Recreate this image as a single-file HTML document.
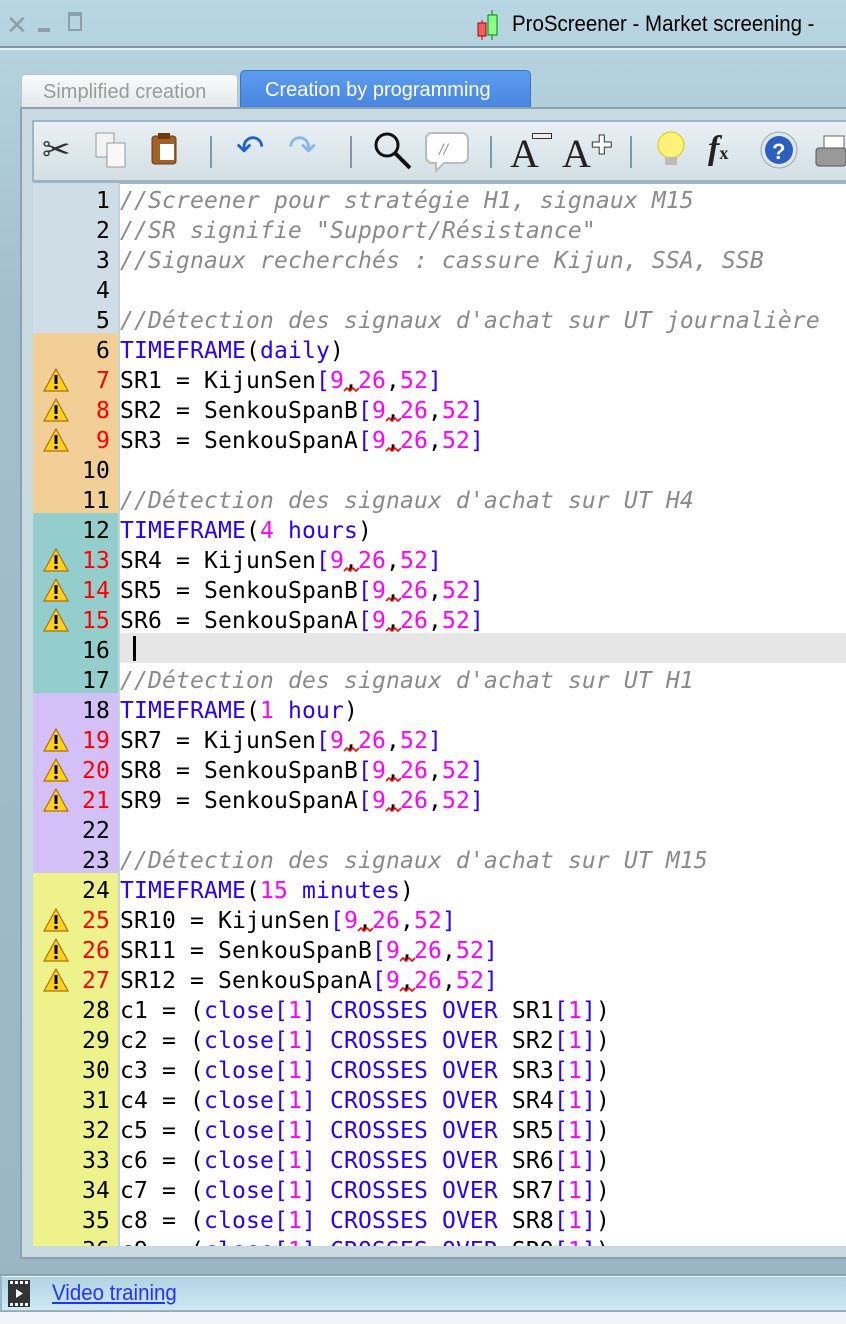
<!DOCTYPE html>
<html><head><meta charset="utf-8"><style>
*{margin:0;padding:0;box-sizing:border-box}
body{width:846px;height:1324px;overflow:hidden;position:relative;background:linear-gradient(#b9d6e3,#a3bfcc 300px,#9ab6c3);font-family:"Liberation Sans",sans-serif}
.abs{position:absolute}
.code{font-family:"DejaVu Sans Mono","Liberation Mono",monospace;font-size:23px;white-space:pre;line-height:30px;letter-spacing:0.15px}
.ln{position:absolute;left:33px;width:85px;height:30px;text-align:right;padding-right:8px}
.tx{position:absolute;left:120px;height:30px}
.c{color:#8a8a8a;font-style:italic}
.k{color:#2a00ff}
.n{color:#ff00ff}
.r{color:#ff0000}
.w{position:absolute;left:43px;width:26px;height:24px}
</style></head><body>
<!-- title -->
<div class="abs" style="left:6px;top:10px;font-size:26px;color:#8aa0aa">✕</div>
<div class="abs" style="left:38px;top:28px;width:12px;height:4px;background:#8aa0aa"></div>
<div class="abs" style="left:68px;top:12px;width:14px;height:19px;border:2px solid #8aa0aa;border-top-width:4px"></div>
<svg class="abs" style="left:474px;top:8px" width="40" height="34"><line x1="8" y1="12" x2="8" y2="32" stroke="#c00"/><rect x="4" y="15" width="8" height="13" fill="#f06060" stroke="#a00"/><line x1="18" y1="2" x2="18" y2="32" stroke="#080"/><rect x="14" y="7" width="9" height="20" fill="#8f8" stroke="#080"/></svg>
<div class="abs" style="left:512px;top:11px;font-size:22px;color:#000;white-space:nowrap;transform:scaleX(0.93);transform-origin:left">ProScreener - Market screening  -</div>
<div class="abs" style="left:0;top:46px;width:846px;height:2px;background:#7f98a4"></div>
<div class="abs" style="left:0;top:48px;width:846px;height:2px;background:#e6f2f7"></div>
<!-- tabs -->
<div class="abs" style="left:21px;top:74px;width:217px;height:34px;background:linear-gradient(#fafafa,#e4e8ea);border:1px solid #b8c4ca;border-bottom:none;border-radius:4px 4px 0 0;color:#9a9a9a;font-size:20px;padding:6px 0 0 21px">Simplified creation</div>
<div class="abs" style="left:240px;top:70px;width:291px;height:38px;background:linear-gradient(#5b9cf0,#4a86e0);border:1px solid #3f72c4;border-bottom:none;border-radius:5px 5px 0 0;color:#fff;font-size:20px;padding:8px 0 0 24px">Creation by programming</div>
<!-- panel -->
<div class="abs" style="left:20px;top:107px;width:830px;height:1152px;background:#c9d9e1;border:2px solid #8aa3ae;border-right:none"></div>
<div class="abs" style="left:32px;top:120px;width:820px;height:62px;background:linear-gradient(#e9f0f3,#d3e0e6);border:2px solid #9fb4bd;border-right:none"></div>
<!-- toolbar icons -->
<div class="abs" style="left:42px;top:130px;font-size:34px;color:#333">✂</div>
<svg class="abs" style="left:94px;top:131px" width="36" height="38"><rect x="2" y="2" width="18" height="24" fill="#f2f2f2" stroke="#999"/><rect x="13" y="12" width="18" height="24" fill="#f8f8f8" stroke="#999"/></svg>
<svg class="abs" style="left:150px;top:132px" width="32" height="34"><rect x="2" y="4" width="24" height="28" rx="3" fill="#a0602a" stroke="#6b3a10"/><rect x="10" y="12" width="14" height="16" fill="#fff"/><rect x="8" y="1" width="12" height="6" fill="#6b3a10"/></svg>
<div class="abs" style="left:210px;top:136px;width:2px;height:32px;background:#7f99a5"></div>
<div class="abs" style="left:236px;top:128px;font-size:34px;color:#1f5fd8">↶</div>
<div class="abs" style="left:288px;top:128px;font-size:34px;color:#8ab6f0">↷</div>
<div class="abs" style="left:350px;top:136px;width:2px;height:32px;background:#7f99a5"></div>
<svg class="abs" style="left:372px;top:130px" width="42" height="42"><circle cx="15" cy="15" r="11" fill="none" stroke="#111" stroke-width="3"/><line x1="23" y1="23" x2="38" y2="38" stroke="#111" stroke-width="4"/></svg>
<svg class="abs" style="left:424px;top:130px" width="46" height="44"><path d="M8 3h30a6 6 0 0 1 6 6v18a6 6 0 0 1-6 6H20l-8 8v-8H8a6 6 0 0 1-6-6V9a6 6 0 0 1 6-6z" fill="#fff" stroke="#bbb" stroke-width="2"/><text x="15" y="25" font-size="16" fill="#999" font-style="italic">//</text></svg>
<div class="abs" style="left:490px;top:136px;width:2px;height:32px;background:#7f99a5"></div>
<div class="abs" style="left:510px;top:130px;font-family:'Liberation Serif',serif;font-size:40px;color:#222">A</div>
<div class="abs" style="left:532px;top:133px;width:20px;height:6px;background:#eee;border:1px solid #333"></div>
<div class="abs" style="left:562px;top:130px;font-family:'Liberation Serif',serif;font-size:40px;color:#222">A<span style="font-size:26px;vertical-align:top;font-family:'Liberation Sans';color:#fff;-webkit-text-stroke:1px #333">✚</span></div>
<div class="abs" style="left:630px;top:136px;width:2px;height:32px;background:#7f99a5"></div>
<svg class="abs" style="left:654px;top:130px" width="34" height="42"><circle cx="17" cy="15" r="13" fill="#fff27a" stroke="#e0c400"/><rect x="11" y="27" width="12" height="8" fill="#bbb"/></svg>
<div class="abs" style="left:708px;top:130px;font-family:'Liberation Serif',serif;font-style:italic;font-size:34px;color:#222;font-weight:bold">f<span style="font-size:18px;font-style:normal">x</span></div>
<svg class="abs" style="left:760px;top:130px" width="40" height="40"><circle cx="19" cy="20" r="18" fill="#dfe6ea" stroke="#9aa"/><circle cx="19" cy="20" r="14" fill="#2d5fbf"/><text x="12" y="29" font-size="22" font-weight="bold" fill="#fff">?</text></svg>
<svg class="abs" style="left:814px;top:132px" width="32" height="38"><rect x="10" y="4" width="20" height="14" fill="#fff" stroke="#666"/><rect x="2" y="16" width="30" height="18" rx="3" fill="#999" stroke="#555"/></svg>
<!-- editor -->
<div class="abs" style="left:33px;top:182px;width:813px;height:1064px;background:#fff;overflow:hidden;border-top:2px solid #9fb4bd">
</div>
<div class="abs" style="left:33px;top:183px;width:85px;height:150px;background:#cfdde6"></div>
<div class="abs" style="left:33px;top:333px;width:85px;height:180px;background:#f2cf97"></div>
<div class="abs" style="left:33px;top:513px;width:85px;height:180px;background:#93cecd"></div>
<div class="abs" style="left:33px;top:693px;width:85px;height:180px;background:#d2c0f7"></div>
<div class="abs" style="left:33px;top:873px;width:85px;height:373px;background:#eef28a"></div>
<div class="abs" style="left:118px;top:183px;width:2px;height:1063px;background:#c5d3da"></div>
<div class="abs" style="left:120px;top:633px;width:726px;height:30px;background:#e6e6e6"></div>
<div class="abs" style="left:133px;top:636px;width:3px;height:25px;background:#000"></div>
<div class="abs code" style="left:0;top:183px;width:846px;height:1063px;overflow:hidden">
<div style="position:absolute;left:0;top:3px;width:846px">
<div class="ln" style="top:0">1</div><div class="tx c" style="top:0">//Screener pour stratégie H1, signaux M15</div>
<div class="ln" style="top:30px">2</div><div class="tx c" style="top:30px">//SR signifie "Support/Résistance"</div>
<div class="ln" style="top:60px">3</div><div class="tx c" style="top:60px">//Signaux recherchés : cassure Kijun, SSA, SSB</div>
<div class="ln" style="top:90px">4</div>
<div class="ln" style="top:120px">5</div><div class="tx c" style="top:120px">//Détection des signaux d'achat sur UT journalière</div>
<div class="ln" style="top:150px">6</div><div class="tx" style="top:150px"><span class="k">TIMEFRAME</span>(<span class="k">daily</span>)</div>
<div class="ln r" style="top:180px">7</div><div class="tx" style="top:180px">SR1 = KijunSen<span class="k">[</span><span class="n">9</span>,<span class="n">26</span>,<span class="n">52</span><span class="k">]</span></div>
<div class="ln r" style="top:210px">8</div><div class="tx" style="top:210px">SR2 = SenkouSpanB<span class="k">[</span><span class="n">9</span>,<span class="n">26</span>,<span class="n">52</span><span class="k">]</span></div>
<div class="ln r" style="top:240px">9</div><div class="tx" style="top:240px">SR3 = SenkouSpanA<span class="k">[</span><span class="n">9</span>,<span class="n">26</span>,<span class="n">52</span><span class="k">]</span></div>
<div class="ln" style="top:270px">10</div>
<div class="ln" style="top:300px">11</div><div class="tx c" style="top:300px">//Détection des signaux d'achat sur UT H4</div>
<div class="ln" style="top:330px">12</div><div class="tx" style="top:330px"><span class="k">TIMEFRAME</span>(<span class="n">4</span> <span class="k">hours</span>)</div>
<div class="ln r" style="top:360px">13</div><div class="tx" style="top:360px">SR4 = KijunSen<span class="k">[</span><span class="n">9</span>,<span class="n">26</span>,<span class="n">52</span><span class="k">]</span></div>
<div class="ln r" style="top:390px">14</div><div class="tx" style="top:390px">SR5 = SenkouSpanB<span class="k">[</span><span class="n">9</span>,<span class="n">26</span>,<span class="n">52</span><span class="k">]</span></div>
<div class="ln r" style="top:420px">15</div><div class="tx" style="top:420px">SR6 = SenkouSpanA<span class="k">[</span><span class="n">9</span>,<span class="n">26</span>,<span class="n">52</span><span class="k">]</span></div>
<div class="ln" style="top:450px">16</div>
<div class="ln" style="top:480px">17</div><div class="tx c" style="top:480px">//Détection des signaux d'achat sur UT H1</div>
<div class="ln" style="top:510px">18</div><div class="tx" style="top:510px"><span class="k">TIMEFRAME</span>(<span class="n">1</span> <span class="k">hour</span>)</div>
<div class="ln r" style="top:540px">19</div><div class="tx" style="top:540px">SR7 = KijunSen<span class="k">[</span><span class="n">9</span>,<span class="n">26</span>,<span class="n">52</span><span class="k">]</span></div>
<div class="ln r" style="top:570px">20</div><div class="tx" style="top:570px">SR8 = SenkouSpanB<span class="k">[</span><span class="n">9</span>,<span class="n">26</span>,<span class="n">52</span><span class="k">]</span></div>
<div class="ln r" style="top:600px">21</div><div class="tx" style="top:600px">SR9 = SenkouSpanA<span class="k">[</span><span class="n">9</span>,<span class="n">26</span>,<span class="n">52</span><span class="k">]</span></div>
<div class="ln" style="top:630px">22</div>
<div class="ln" style="top:660px">23</div><div class="tx c" style="top:660px">//Détection des signaux d'achat sur UT M15</div>
<div class="ln" style="top:690px">24</div><div class="tx" style="top:690px"><span class="k">TIMEFRAME</span>(<span class="n">15</span> <span class="k">minutes</span>)</div>
<div class="ln r" style="top:720px">25</div><div class="tx" style="top:720px">SR10 = KijunSen<span class="k">[</span><span class="n">9</span>,<span class="n">26</span>,<span class="n">52</span><span class="k">]</span></div>
<div class="ln r" style="top:750px">26</div><div class="tx" style="top:750px">SR11 = SenkouSpanB<span class="k">[</span><span class="n">9</span>,<span class="n">26</span>,<span class="n">52</span><span class="k">]</span></div>
<div class="ln r" style="top:780px">27</div><div class="tx" style="top:780px">SR12 = SenkouSpanA<span class="k">[</span><span class="n">9</span>,<span class="n">26</span>,<span class="n">52</span><span class="k">]</span></div>
<div class="ln" style="top:810px">28</div><div class="tx" style="top:810px">c1 = (<span class="k">close[</span><span class="n">1</span><span class="k">] CROSSES OVER</span> SR1<span class="k">[</span><span class="n">1</span><span class="k">]</span>)</div>
<div class="ln" style="top:840px">29</div><div class="tx" style="top:840px">c2 = (<span class="k">close[</span><span class="n">1</span><span class="k">] CROSSES OVER</span> SR2<span class="k">[</span><span class="n">1</span><span class="k">]</span>)</div>
<div class="ln" style="top:870px">30</div><div class="tx" style="top:870px">c3 = (<span class="k">close[</span><span class="n">1</span><span class="k">] CROSSES OVER</span> SR3<span class="k">[</span><span class="n">1</span><span class="k">]</span>)</div>
<div class="ln" style="top:900px">31</div><div class="tx" style="top:900px">c4 = (<span class="k">close[</span><span class="n">1</span><span class="k">] CROSSES OVER</span> SR4<span class="k">[</span><span class="n">1</span><span class="k">]</span>)</div>
<div class="ln" style="top:930px">32</div><div class="tx" style="top:930px">c5 = (<span class="k">close[</span><span class="n">1</span><span class="k">] CROSSES OVER</span> SR5<span class="k">[</span><span class="n">1</span><span class="k">]</span>)</div>
<div class="ln" style="top:960px">33</div><div class="tx" style="top:960px">c6 = (<span class="k">close[</span><span class="n">1</span><span class="k">] CROSSES OVER</span> SR6<span class="k">[</span><span class="n">1</span><span class="k">]</span>)</div>
<div class="ln" style="top:990px">34</div><div class="tx" style="top:990px">c7 = (<span class="k">close[</span><span class="n">1</span><span class="k">] CROSSES OVER</span> SR7<span class="k">[</span><span class="n">1</span><span class="k">]</span>)</div>
<div class="ln" style="top:1020px">35</div><div class="tx" style="top:1020px">c8 = (<span class="k">close[</span><span class="n">1</span><span class="k">] CROSSES OVER</span> SR8<span class="k">[</span><span class="n">1</span><span class="k">]</span>)</div>
<div class="ln" style="top:1050px">36</div><div class="tx" style="top:1050px">c9 = (<span class="k">close[</span><span class="n">1</span><span class="k">] CROSSES OVER</span> SR9<span class="k">[</span><span class="n">1</span><span class="k">]</span>)</div>
</div>
</div>
<!-- warnings -->
<svg width="0" height="0" style="position:absolute"><defs><symbol id="wr" viewBox="0 0 26 24"><path d="M13 1L25 23H1Z" fill="#ffd21e" stroke="#b07000" stroke-width="1.2"/><rect x="11.5" y="7" width="3" height="9" fill="#000"/><circle cx="13" cy="19.5" r="1.7" fill="#000"/></symbol></defs></svg>
<svg class="w" style="top:368px"><use href="#wr"/></svg>
<svg class="w" style="top:398px"><use href="#wr"/></svg>
<svg class="w" style="top:428px"><use href="#wr"/></svg>
<svg class="w" style="top:548px"><use href="#wr"/></svg>
<svg class="w" style="top:578px"><use href="#wr"/></svg>
<svg class="w" style="top:608px"><use href="#wr"/></svg>
<svg class="w" style="top:728px"><use href="#wr"/></svg>
<svg class="w" style="top:758px"><use href="#wr"/></svg>
<svg class="w" style="top:788px"><use href="#wr"/></svg>
<svg class="w" style="top:908px"><use href="#wr"/></svg>
<svg class="w" style="top:938px"><use href="#wr"/></svg>
<svg class="w" style="top:968px"><use href="#wr"/></svg>
<!-- squiggles -->
<svg class="abs" style="left:0;top:0" width="846" height="1324">
<g fill="none" stroke="#f00" stroke-width="1.6">
<path d="M344 391l3-3 3 3 3-3 3 3 3-3"/><path d="M386 421l3-3 3 3 3-3 3 3 3-3"/><path d="M386 451l3-3 3 3 3-3 3 3 3-3"/>
<path d="M344 571l3-3 3 3 3-3 3 3 3-3"/><path d="M386 601l3-3 3 3 3-3 3 3 3-3"/><path d="M386 631l3-3 3 3 3-3 3 3 3-3"/>
<path d="M344 751l3-3 3 3 3-3 3 3 3-3"/><path d="M386 781l3-3 3 3 3-3 3 3 3-3"/><path d="M386 811l3-3 3 3 3-3 3 3 3-3"/>
<path d="M358 931l3-3 3 3 3-3 3 3 3-3"/><path d="M400 961l3-3 3 3 3-3 3 3 3-3"/><path d="M400 991l3-3 3 3 3-3 3 3 3-3"/>
</g></svg>
<!-- bottom -->
<div class="abs" style="left:0;top:1274px;width:846px;height:2px;background:#8aa3ae"></div>
<div class="abs" style="left:2px;top:1276px;width:844px;height:34px;background:linear-gradient(#b2d2e2,#cde9f5);border-top:1px solid #e8f6fb"></div>
<svg class="abs" style="left:8px;top:1280px" width="22" height="27"><rect width="22" height="27" fill="#333"/><g fill="#fff"><rect x="2" y="1" width="3" height="3"/><rect x="7" y="1" width="3" height="3"/><rect x="12" y="1" width="3" height="3"/><rect x="17" y="1" width="3" height="3"/><rect x="2" y="23" width="3" height="3"/><rect x="7" y="23" width="3" height="3"/><rect x="12" y="23" width="3" height="3"/><rect x="17" y="23" width="3" height="3"/><path d="M8 9l7 4.5-7 4.5z"/></g></svg>
<div class="abs" style="left:52px;top:1280px;font-size:22px;color:#2233ff;text-decoration:underline;transform:scaleX(0.93);transform-origin:left">Video training</div>
<div class="abs" style="left:0;top:1311px;width:846px;height:13px;background:#f0f4f8;border-top:1px solid #9aaab4"></div>
</body></html>
